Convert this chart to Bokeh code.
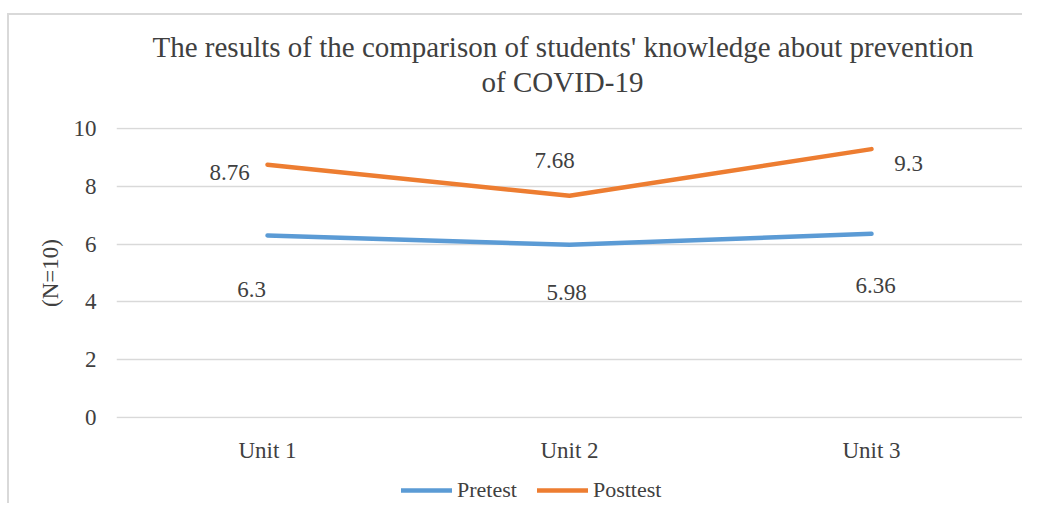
from bokeh.plotting import figure
from bokeh.layouts import column
from bokeh.models import (ColumnDataSource, LabelSet, Legend, LegendItem, Range1d,
                          FactorRange, Title, FixedTicker)
from bokeh.embed import file_html
from bokeh.resources import INLINE

units = ["Unit 1", "Unit 2", "Unit 3"]
pretest = [6.30, 5.98, 6.36]
posttest = [8.76, 7.68, 9.30]
y_ticks = [0, 2, 4, 6, 8, 10]
title_lines = ["The results of the comparison of students' knowledge about prevention",
               "of COVID-19"]
y_label = "(N=10)"
series_names = ["Pretest", "Posttest"]

# label offsets (screen px, +x right, +y up)
post_dx = [-38, -15, 37]
post_dy = [-8, 35, -14]
pre_dx = [-16, -3, 4]
pre_dy = [-54, -48, -52]

FONT = "Liberation Serif"
TXT = "#404040"
BLUE = "#5B9BD5"
ORANGE = "#ED7D31"
GRID = "#D9D9D9"
FS = "23px"

# chart area sits inside a light border starting 7px / 13px from the corner
p = figure(frame_width=906, frame_height=291,
           x_range=FactorRange(*units, range_padding=0),
           y_range=Range1d(-0.05, 10.05), output_backend="svg", toolbar_location=None,
           min_border_left=107, min_border_right=0, min_border_top=112,
           min_border_bottom=53)
p.outline_line_color = None

src_post = ColumnDataSource(dict(x=units, y=posttest, t=[f"{v:g}" for v in posttest],
                                 dx=post_dx, dy=post_dy))
src_pre = ColumnDataSource(dict(x=units, y=pretest, t=[f"{v:g}" for v in pretest],
                                dx=pre_dx, dy=pre_dy))

p.line("x", "y", source=src_pre, line_color=BLUE, line_width=4.5,
       line_cap="round", line_join="round")
p.line("x", "y", source=src_post, line_color=ORANGE, line_width=4.5,
       line_cap="round", line_join="round")

for src in (src_post, src_pre):
    p.add_layout(LabelSet(x="x", y="y", text="t", source=src, x_offset="dx", y_offset="dy",
                          text_align="center", text_baseline="middle",
                          text_font=FONT, text_font_size=FS, text_color=TXT))

# axes
p.yaxis.ticker = FixedTicker(ticks=y_ticks)
p.yaxis.axis_line_color = None
p.yaxis.major_tick_line_color = None
p.yaxis.minor_tick_line_color = None
p.yaxis.major_label_standoff = 14
p.yaxis.major_label_text_font = FONT
p.yaxis.major_label_text_font_size = FS
p.yaxis.major_label_text_color = TXT
p.yaxis.axis_label = y_label
p.yaxis.axis_label_text_font = FONT
p.yaxis.axis_label_text_font_size = FS
p.yaxis.axis_label_text_font_style = "normal"
p.yaxis.axis_label_text_color = TXT
p.yaxis.axis_label_standoff = 8

p.xaxis.axis_line_color = None
p.xaxis.major_tick_line_color = None
p.xaxis.minor_tick_line_color = None
p.xaxis.major_label_standoff = 13
p.xaxis.major_label_text_font = FONT
p.xaxis.major_label_text_font_size = FS
p.xaxis.major_label_text_color = TXT

p.xgrid.grid_line_color = None
p.ygrid.grid_line_color = GRID
p.ygrid.grid_line_width = 1.5

# titles: spacer nearest the plot, then second line, then first line
p.add_layout(Title(text=" ", text_font_size="1px", standoff=25), "above")
p.add_layout(Title(text=title_lines[1], align="left", offset=365, text_font=FONT,
                   text_font_size="29px", text_font_style="normal", text_color=TXT,
                   standoff=3), "above")
p.add_layout(Title(text=title_lines[0], align="left", offset=36, text_font=FONT,
                   text_font_size="29px", text_font_style="normal", text_color=TXT,
                   standoff=0), "above")

# legend strip below the chart (series drawn outside its visible range)
leg = figure(width=1013, height=32, x_range=Range1d(0, 1), y_range=Range1d(100, 101),
             x_axis_location=None, y_axis_location=None,
             output_backend="svg", toolbar_location=None,
             min_border_left=0, min_border_right=0, min_border_top=0, min_border_bottom=0)
leg.grid.visible = False
leg.outline_line_color = None
idx = list(range(len(units)))
lr_pre = leg.line(idx, pretest, line_color=BLUE, line_width=4.5, line_cap="round")
lr_post = leg.line(idx, posttest, line_color=ORANGE, line_width=4.5, line_cap="round")
legend = Legend(items=[LegendItem(label=series_names[0], renderers=[lr_pre]),
                       LegendItem(label=series_names[1], renderers=[lr_post])],
                orientation="horizontal", location=(285, 0),
                label_text_font=FONT, label_text_font_size="22px", label_text_color=TXT,
                glyph_width=51, glyph_height=20, label_standoff=5, spacing=20,
                border_line_color=None, background_fill_alpha=0, margin=0, padding=4)
leg.add_layout(legend, "center")

layout = column(p, leg, spacing=0,
                styles={"margin-left": "7px", "margin-top": "13px",
                        "border-left": "2px solid #D9D9D9",
                        "border-top": "2px solid #D9D9D9"})
open("out.html", "w").write(file_html(layout, INLINE))
